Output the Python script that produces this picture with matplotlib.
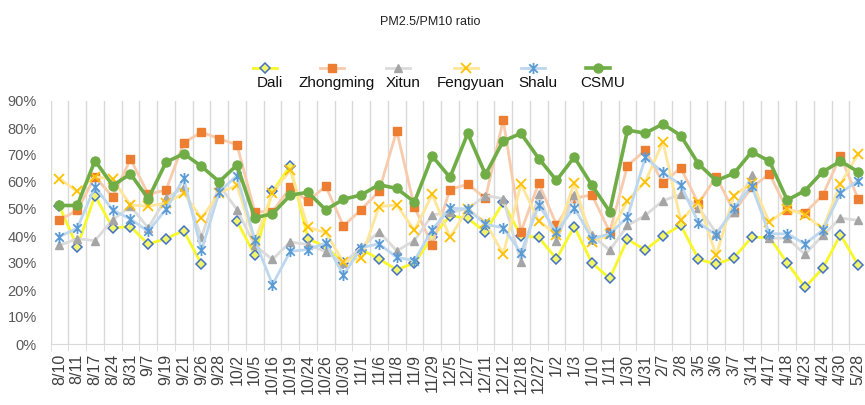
import numpy as np
import matplotlib
matplotlib.use("Agg")
import matplotlib.pyplot as plt
from matplotlib.lines import Line2D
from matplotlib.path import Path

plt.rcParams["font.family"] = ["Liberation Sans", "DejaVu Sans"]

dates = ["8/10", "8/11", "8/17", "8/24", "8/31", "9/7", "9/19", "9/21", "9/26", "9/28",
         "10/2", "10/5", "10/16", "10/19", "10/24", "10/26", "10/30", "11/1", "11/6", "11/8",
         "11/9", "11/29", "12/5", "12/7", "12/11", "12/12", "12/18", "12/27", "1/2", "1/3",
         "1/10", "1/11", "1/30", "1/31", "2/7", "2/8", "3/5", "3/6", "3/7", "3/14",
         "4/17", "4/18", "4/23", "4/24", "4/30", "5/28"]

# ratios in percent (nan = no data)
dali = [51, 36, 55, 43, 43.5, 37, 39, 42, 29.5, np.nan,
        45.5, 33, 56.5, 66, 39, 36, 30, 35, 31.5, 27.5,
        30, 39.5, 47.5, 46.5, 41.5, 52.5, 40, 39.5, 31.5, 43.5,
        30, 24.3, 38.8, 34.8, 40, 44, 31.4, 29.5, 32, 39.5,
        39.5, 30, 21, 28, 40.5, 29.2]
zhongming = [46, 49.5, 62, 54.5, 68.5, 55.5, 57, 74.5, 78.5, 76,
             73.8, 49, 49, 58, 52.8, 58.5, 43.7, 49.8, 56.5, 79,
             50.6, 36.7, 57.2, 59.2, 54, 83, 41.6, 59.6, 44.2, 54,
             55.2, 41.5, 66, 71.8, 59.6, 65.3, 52, 62, 49, 58,
             63, 49.7, 48.6, 55.1, 69.6, 53.7]
xitun = [36.5, 39, 38.3, 46, 51, 43, 54, 58, 39.6, 58.8,
         49.8, 36.5, 31.3, 37.8, 36.8, 34.2, 30, 35.7, 41.6, 34.5,
         38.3, 47.8, 48.8, 50, 55, 53.8, 30.3, 55.5, 38, 55.2,
         40.3, 34.7, 43.9, 47.6, 53.1, 55.4, 50.5, 41.2, 49, 62.5,
         39.2, 39.2, 33.2, 40.2, 46.6, 45.8]
fengyuan = [61.2, 56.5, 62, 61, 51.5, 51, 52.2, 55.8, 46.6, 56,
            58.8, 38, 56, 64.3, 43.2, 41.3, 30.3, 31.8, 50.9, 51.5,
            42.1, 55.4, 39.5, 50, 45, 33.3, 59.3, 45.6, 40.5, 59.6,
            37.8, 40.8, 53.1, 60.1, 74.9, 45.8, 52.5, 32.8, 55, 59.7,
            45.1, 50.1, 47.8, 42.7, 59.3, 70.4]
shalu = [39.8, 42.9, 58.2, 49.6, 46.3, 41.7, 49.9, 61.3, 34.7, 56.3,
         62.4, 38.6, 22, 34.3, 35, 37.4, 25.5, 35.7, 37.1, 32.1,
         30.9, 42.4, 50.3, 50, 44.3, 43.1, 33.8, 51.5, 41.5, 50.5,
         39, 40.8, 47, 69.1, 63.6, 58.9, 44.9, 40.4, 50.4, 58.4,
         40.8, 40.8, 37.1, 42.1, 56, 60.5]
csmu = [51.3, 51.3, 67.9, 58.7, 63, 53.8, 67.3, 70.5, 65.8, 60.1,
        66.3, 46.8, 48.2, 55.1, 56.2, 49.7, 53.6, 55.2, 59, 57.6,
        52.6, 69.6, 61.7, 78, 62.8, 75.2, 78, 68.7, 60.6, 69.2,
        58.8, 49, 79.2, 78.1, 81.5, 77.2, 66.7, 60.5, 63.2, 71.2,
        67.7, 53.3, 56.8, 63.8, 67.7, 63.8]

# Excel-style "star": an x with a vertical bar through it
star = Path([(-1, -1), (1, 1), (-1, 1), (1, -1), (0, -1.3), (0, 1.3)],
            [Path.MOVETO, Path.LINETO, Path.MOVETO, Path.LINETO, Path.MOVETO, Path.LINETO])

series = [
    ("Dali", dali, dict(color="#f7f72a", lw=2, marker="D", ms=5, mfc="#f2f56a", mec="#4472c4", mew=1.1)),
    ("Zhongming", zhongming, dict(color="#f8cbad", lw=2, marker="s", ms=5.5, mfc="#ed7d31", mec="#ed7d31")),
    ("Xitun", xitun, dict(color="#dbdbdb", lw=2, marker="^", ms=6, mfc="#a5a5a5", mec="#a5a5a5")),
    ("Fengyuan", fengyuan, dict(color="#ffe699", lw=2, marker="x", ms=7, mec="#ffc000", mew=1.3)),
    ("Shalu", shalu, dict(color="#bdd7ee", lw=2, marker=star, ms=8, mfc="none", mec="#5b9bd5", mew=1.3)),
    ("CSMU", csmu, dict(color="#70ad47", lw=2.6, marker="o", ms=6.5, mfc="#70ad47", mec="#70ad47")),
]

fig = plt.figure(figsize=(8.65, 4.05), dpi=100)
ax = fig.add_axes([50.6 / 865, 61 / 405, 816.5 / 865, 243 / 405])

x = np.arange(len(dates))
for name, vals, style in series:
    ax.plot(x, np.array(vals) / 100, zorder=3, **style)

ax.set_xlim(-0.5, len(dates) - 0.5)
ax.set_ylim(0, 0.9)
ax.set_yticks(np.arange(0, 0.91, 0.1))
ax.set_yticklabels([f"{int(round(v * 100))}%" for v in np.arange(0, 0.91, 0.1)])
ax.set_xticks(x)
ax.set_xticklabels(dates, rotation=90, va="top", ha="center")
ax.set_xticks(np.arange(-0.5, len(dates), 1), minor=True)
ax.tick_params(axis="x", which="major", length=0, pad=7, labelsize=11.5, labelcolor="#404040")
ax.tick_params(axis="x", which="minor", length=5, color="#d9d9d9")
ax.tick_params(axis="y", length=0, pad=10, labelsize=10.5, labelcolor="#595959")
ax.grid(which="minor", axis="x", color="#d9d9d9", lw=1)
for s in ["top", "right", "left"]:
    ax.spines[s].set_visible(False)
ax.spines["bottom"].set_color("#d9d9d9")

fig.text(430 / 865, 1 - 22 / 405, "PM2.5/PM10 ratio", ha="center", va="center", fontsize=9, color="#222222")

# legend: sample line with marker above each label
leg_x = [265, 332, 398, 466, 533, 598]
for (name, vals, style), px in zip(series, leg_x):
    yy = 1 - 68 / 405
    fig.add_artist(Line2D([(px - 12) / 865, (px + 12) / 865], [yy, yy], transform=fig.transFigure,
                          color=style["color"], lw=style["lw"]))
    mk = {k: v for k, v in style.items() if k not in ("color", "lw")}
    fig.add_artist(Line2D([px / 865], [yy], transform=fig.transFigure, lw=0, **mk))
    fig.text((px + 5) / 865, 1 - 83 / 405, name, ha="center", va="center", fontsize=11, color="#111111")

fig.savefig("out.png", dpi=100)
